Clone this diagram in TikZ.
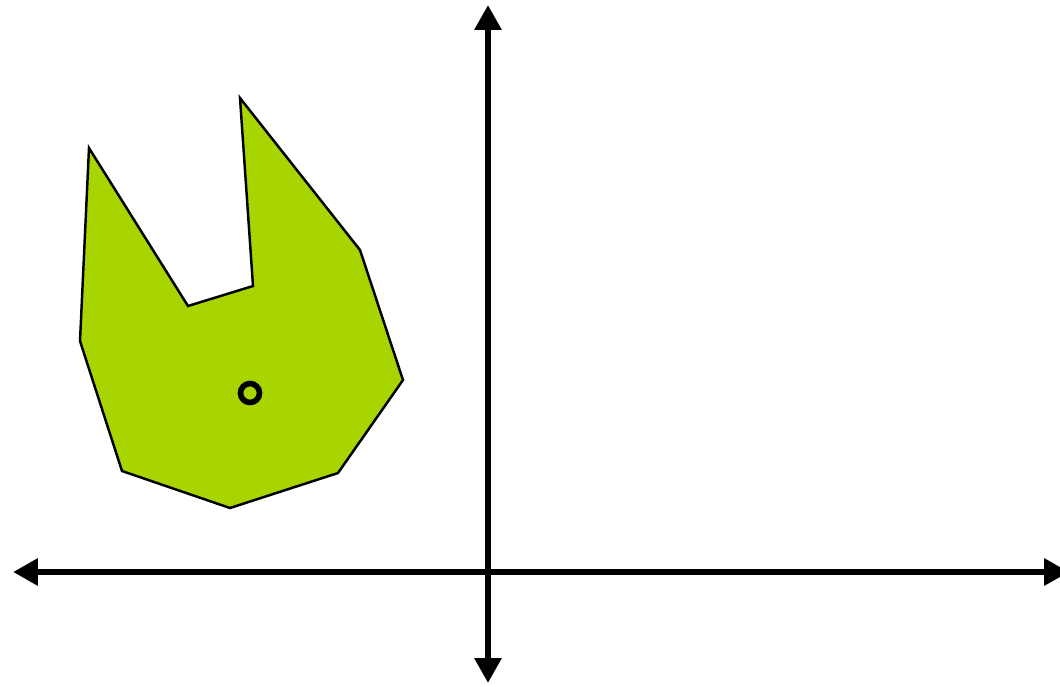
\documentclass[tikz,border=0pt]{standalone}
\usetikzlibrary{arrows.meta}
\definecolor{shapegreen}{RGB}{168,212,0}

\begin{document}
\begin{tikzpicture}[
        axis/.style={line width=1.8pt,{Triangle[length=7.1pt,width=7.4pt]}-{Triangle[length=7.1pt,width=7.4pt]}},
        blob/.style={fill=shapegreen,draw=black,line width=0.7pt,line join=miter}
    ]
        \useasboundingbox (0,0) rectangle (10.6,6.86);

        % axes
        \coordinate (xl) at (0.13,1.14);
        \coordinate (xr) at (10.69,1.14);
        \coordinate (yt) at (4.88,6.81);
        \coordinate (yb) at (4.88,0.03);
        \draw[axis] (xl) -- (xr);
        \draw[axis] (yb) -- (yt);

        % polygon
        \draw[blob] (0.89,5.38) -- (1.88,3.80) -- (2.53,4.00) -- (2.40,5.88)
            -- (3.60,4.36) -- (4.03,3.06) -- (3.38,2.13) -- (2.30,1.78)
            -- (1.22,2.15) -- (0.80,3.45) -- cycle;

        \node[circle,draw,line width=1.6pt,minimum size=1.9mm,inner sep=0pt] (pivot) at (2.50,2.93) {};
    \end{tikzpicture}
\end{document}
